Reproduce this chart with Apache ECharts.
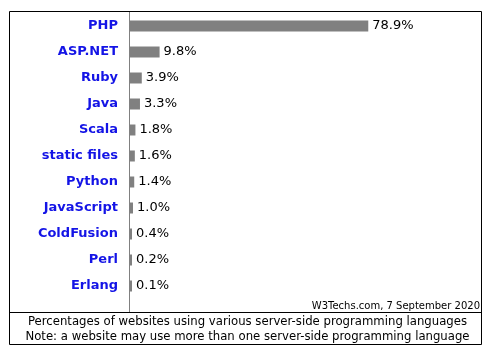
<!DOCTYPE html>
<html>
<head>
<meta charset="utf-8">
<script src="https://cdn.jsdelivr.net/npm/echarts@6/dist/echarts.min.js"></script>
<style>
html, body { margin: 0; padding: 0; background: #fff; }
#main { width: 495px; height: 353px; }
</style>
</head>
<body>
<div id="main"></div>
<script>
var languages = ['PHP', 'ASP.NET', 'Ruby', 'Java', 'Scala', 'static files', 'Python', 'JavaScript', 'ColdFusion', 'Perl', 'Erlang'];
var shares = [78.9, 9.8, 3.9, 3.3, 1.8, 1.6, 1.4, 1.0, 0.4, 0.2, 0.1];
var sourceNote = 'W3Techs.com, 7 September 2020';
var captionLines = [
    'Percentages of websites using various server-side programming languages',
    'Note: a website may use more than one server-side programming language'
];

var myChart = echarts.init(document.getElementById('main'));

var option = {
    animation: false,
    textStyle: { fontFamily: 'DejaVu Sans' },
    grid: { left: 130, right: 63, top: 13, height: 286 },
    xAxis: {
        type: 'value',
        min: 0,
        max: 100,
        show: false
    },
    yAxis: {
        type: 'category',
        data: languages,
        inverse: true,
        axisLine: { show: false },
        axisTick: { show: false },
        splitLine: { show: false },
        axisLabel: {
            margin: 12,
            color: '#1414e6',
            fontWeight: 'bold',
            fontSize: 13,
            fontFamily: 'DejaVu Sans'
        }
    },
    series: [{
        type: 'bar',
        data: shares,
        barWidth: 11,
        barMinHeight: 2,
        itemStyle: { color: '#808080' },
        label: {
            show: true,
            position: 'right',
            distance: 4,
            color: '#000',
            fontSize: 13,
            fontFamily: 'DejaVu Sans',
            formatter: function (p) { return p.value.toFixed(1) + '%'; }
        }
    }],
    graphic: [
        // outer frame and footer separator
        { type: 'rect', shape: { x: 9.5, y: 11.5, width: 472, height: 333 }, style: { fill: 'none', stroke: '#000', lineWidth: 1 } },
        { type: 'line', shape: { x1: 9.5, y1: 312.5, x2: 481.5, y2: 312.5 }, style: { stroke: '#000', lineWidth: 1 } },
        // axis line
        { type: 'line', shape: { x1: 129.5, y1: 12, x2: 129.5, y2: 312 }, style: { stroke: '#808080', lineWidth: 1 } },
        { type: 'text', right: 15, top: 301, style: { text: sourceNote, fontSize: 10, fontFamily: 'DejaVu Sans', fill: '#000' } },
        { type: 'text', left: 'center', top: 316, style: { text: captionLines[0], fontSize: 11.7, fontFamily: 'DejaVu Sans', fill: '#000' } },
        { type: 'text', left: 'center', top: 331, style: { text: captionLines[1], fontSize: 11.7, fontFamily: 'DejaVu Sans', fill: '#000' } }
    ]
};

myChart.setOption(option);
</script>
</body>
</html>
